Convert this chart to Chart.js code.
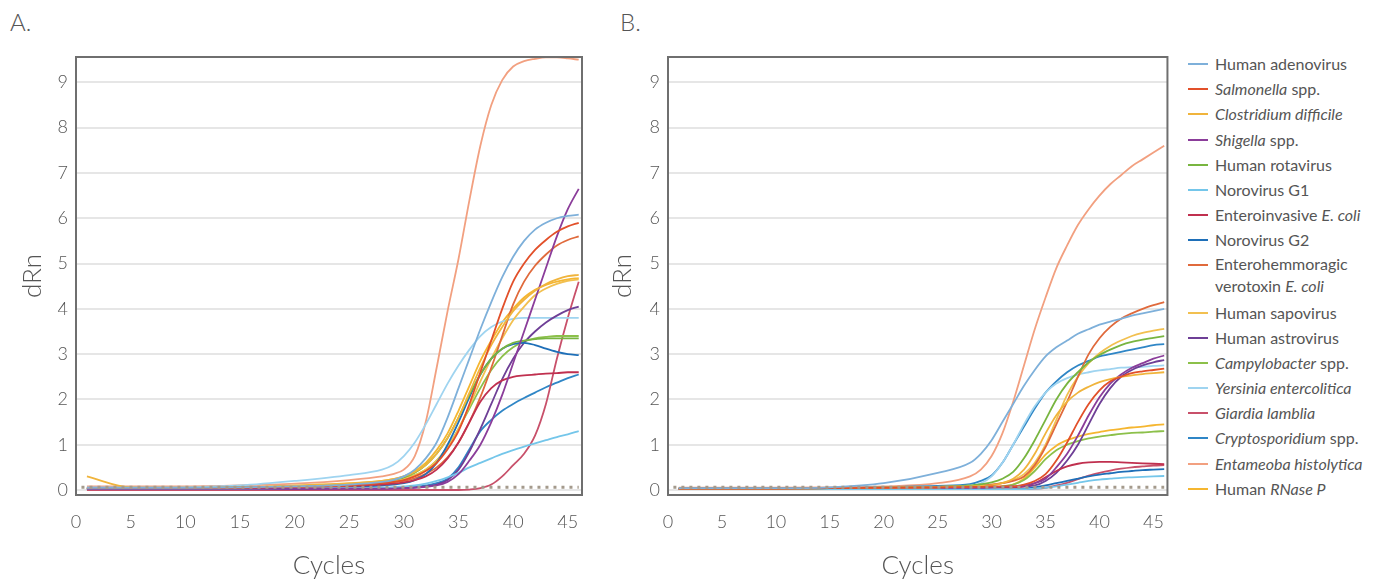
<!DOCTYPE html>
<html><head><meta charset="utf-8">
<script src="https://cdn.jsdelivr.net/npm/chart.js@4/dist/chart.umd.min.js"></script>
<style>
body{margin:0;background:#fff;width:1381px;height:581px;overflow:hidden;position:relative;font-family:Lato,"Open Sans",sans-serif;}
canvas{position:absolute;top:0}
#ca{left:0}
#cb{left:590px}
.lbl{position:absolute;font-size:24px;color:#555;font-weight:300;line-height:1}
#legend{position:absolute;left:1188px;top:51px;font-size:16px;color:#555;font-weight:400}
.item{position:relative;height:25.2px;line-height:25.2px;padding-left:27px;white-space:nowrap}
.item .sw{position:absolute;left:0;top:12px;width:20px;height:2px}
.item.two{height:47px;line-height:22px}
.item.two .sw{top:11px}
</style></head>
<body>
<div class="lbl" style="left:10px;top:10px">A.</div>
<div class="lbl" style="left:620px;top:10px">B.</div>
<canvas id="ca" width="600" height="581"></canvas>
<canvas id="cb" width="590" height="581"></canvas>
<div id="legend"></div>
<script>
// ---- data ----
const cycles = [1,5,10,15,20,25,28,29,30,31,32,33,34,35,36,37,38,39,40,41,42,43,44,45,46];
const xTickLabels = [0,5,10,15,20,25,30,35,40,45];
const yTickLabels = [0,1,2,3,4,5,6,7,8,9];
const thresholdCycles = [0.5,46];
const thresholdValues = [0.06,0.06];

const seriesNames = [
  'Human adenovirus','<i>Salmonella</i> spp.','<i>Clostridium difficile</i>','<i>Shigella</i> spp.',
  'Human rotavirus','Norovirus G1','Enteroinvasive <i>E. coli</i>','Norovirus G2',
  'Enterohemmoragic<br>verotoxin <i>E. coli</i>','Human sapovirus','Human astrovirus','<i>Campylobacter</i> spp.',
  '<i>Yersinia entercolitica</i>','<i>Giardia lamblia</i>','<i>Cryptosporidium</i> spp.','<i>Entameoba histolytica</i>','Human <i>RNase P</i>'
];
const seriesColors = ['#7eb0da','#e2502a','#f0b43c','#8b3d9a','#78b540','#74c6ea','#c0304f','#1e6fb8',
  '#e06a3c','#f2c050','#6e3f96','#8cc04a','#9fd4f0','#c8506a','#2f86c6','#f2a080','#f5b630'];

// Panel A
const aAdeno  = [0.05,0.05,0.05,0.06,0.08,0.12,0.18,0.22,0.3,0.45,0.7,1.05,1.6,2.25,2.9,3.55,4.15,4.7,5.15,5.5,5.75,5.9,6.0,6.05,6.08];
const aSalm   = [0.04,0.04,0.04,0.05,0.07,0.1,0.15,0.18,0.22,0.3,0.42,0.6,0.9,1.3,1.9,2.6,3.3,4.0,4.6,5.0,5.3,5.52,5.7,5.82,5.9];
const aClost  = [0.3,0.06,0.05,0.06,0.1,0.15,0.2,0.24,0.3,0.4,0.55,0.8,1.15,1.6,2.15,2.7,3.2,3.6,3.95,4.2,4.4,4.55,4.65,4.72,4.75];
const aShig   = [0.03,0.03,0.03,0.03,0.03,0.03,0.03,0.03,0.04,0.05,0.07,0.1,0.18,0.35,0.65,1.0,1.5,2.1,2.8,3.5,4.2,4.9,5.6,6.2,6.65];
const aRota   = [0.04,0.04,0.04,0.05,0.08,0.12,0.18,0.22,0.28,0.38,0.55,0.8,1.15,1.6,2.1,2.55,2.9,3.12,3.25,3.3,3.33,3.35,3.35,3.35,3.35];
const aNoroG1 = [0.03,0.03,0.03,0.03,0.04,0.04,0.05,0.06,0.08,0.1,0.14,0.2,0.28,0.38,0.5,0.6,0.7,0.8,0.88,0.96,1.03,1.1,1.17,1.23,1.3];
const aEiec   = [0.03,0.03,0.03,0.04,0.06,0.09,0.12,0.14,0.17,0.22,0.3,0.45,0.7,1.05,1.5,1.95,2.25,2.42,2.5,2.53,2.55,2.57,2.58,2.6,2.6];
const aNoroG2 = [0.03,0.03,0.03,0.04,0.06,0.08,0.1,0.12,0.15,0.22,0.35,0.6,1.0,1.5,2.05,2.55,2.9,3.12,3.22,3.25,3.2,3.12,3.05,3.0,2.98];
const aEhec   = [0.04,0.04,0.04,0.05,0.07,0.1,0.14,0.17,0.2,0.26,0.36,0.5,0.72,1.05,1.5,2.05,2.7,3.4,4.1,4.6,4.95,5.2,5.4,5.52,5.6];
const aSapo   = [0.04,0.04,0.04,0.05,0.08,0.12,0.16,0.2,0.25,0.33,0.45,0.65,0.95,1.35,1.85,2.4,2.9,3.35,3.75,4.05,4.3,4.45,4.55,4.62,4.65];
const aAstro  = [0.02,0.02,0.02,0.02,0.02,0.03,0.03,0.04,0.05,0.06,0.08,0.12,0.22,0.45,0.85,1.35,1.9,2.45,2.9,3.25,3.5,3.7,3.85,3.97,4.05];
const aCampy  = [0.04,0.04,0.04,0.05,0.08,0.12,0.15,0.2,0.25,0.33,0.45,0.65,0.95,1.35,1.8,2.25,2.65,2.95,3.15,3.28,3.35,3.38,3.4,3.4,3.4];
const aYers   = [0.05,0.05,0.06,0.1,0.2,0.33,0.45,0.55,0.75,1.05,1.45,1.9,2.35,2.75,3.1,3.4,3.6,3.72,3.78,3.8,3.8,3.8,3.8,3.8,3.8];
const aGiardia= [0,0,0,0,0,0,0,0,0,0,0,0,0,0,0.01,0.04,0.12,0.3,0.55,0.8,1.2,1.9,2.9,3.8,4.6];
const aCrypto = [0.03,0.03,0.03,0.03,0.04,0.04,0.04,0.05,0.05,0.07,0.1,0.15,0.25,0.5,0.9,1.3,1.55,1.75,1.9,2.03,2.15,2.27,2.37,2.47,2.55];
const aEntam  = [0.08,0.08,0.08,0.1,0.14,0.22,0.3,0.35,0.45,0.75,1.5,2.7,3.95,5.1,6.4,7.6,8.5,9.05,9.35,9.47,9.52,9.55,9.55,9.53,9.5];
const aRnase  = [0.05,0.05,0.05,0.06,0.09,0.14,0.2,0.24,0.3,0.42,0.6,0.88,1.25,1.75,2.3,2.85,3.3,3.7,4.0,4.25,4.42,4.53,4.6,4.65,4.68];

// Panel B
const bAdeno  = [0.04,0.04,0.04,0.06,0.15,0.38,0.6,0.8,1.1,1.5,1.9,2.3,2.65,2.95,3.15,3.3,3.45,3.55,3.65,3.72,3.78,3.85,3.9,3.95,4.0];
const bSalm   = [0.03,0.03,0.03,0.04,0.05,0.06,0.07,0.07,0.08,0.08,0.08,0.12,0.2,0.35,0.65,1.05,1.5,1.9,2.2,2.4,2.5,2.58,2.62,2.65,2.68];
const bClost  = [0.03,0.03,0.03,0.04,0.05,0.06,0.08,0.09,0.1,0.15,0.25,0.45,0.8,1.25,1.65,1.95,2.15,2.28,2.38,2.45,2.5,2.53,2.56,2.58,2.6];
const bShig   = [0.03,0.03,0.03,0.04,0.04,0.05,0.05,0.05,0.06,0.07,0.08,0.1,0.15,0.25,0.5,0.8,1.2,1.65,2.05,2.35,2.55,2.7,2.8,2.9,2.97];
const bRota   = [0.03,0.03,0.03,0.04,0.05,0.07,0.1,0.13,0.17,0.25,0.4,0.7,1.1,1.55,2.0,2.35,2.6,2.82,2.98,3.1,3.2,3.27,3.32,3.36,3.4];
const bNoroG1 = [0.02,0.02,0.02,0.02,0.02,0.02,0.02,0.02,0.02,0.02,0.02,0.02,0.03,0.05,0.08,0.12,0.16,0.2,0.23,0.25,0.27,0.28,0.29,0.3,0.31];
const bEiec   = [0.02,0.02,0.02,0.02,0.03,0.03,0.03,0.03,0.04,0.04,0.05,0.08,0.15,0.28,0.42,0.52,0.58,0.61,0.62,0.62,0.61,0.6,0.59,0.58,0.57];
const bNoroG2 = [0.02,0.02,0.02,0.02,0.02,0.02,0.02,0.02,0.02,0.02,0.02,0.03,0.06,0.1,0.15,0.2,0.25,0.3,0.34,0.37,0.4,0.42,0.44,0.45,0.46];
const bEhec   = [0.03,0.03,0.03,0.04,0.05,0.07,0.09,0.1,0.12,0.15,0.2,0.3,0.55,0.95,1.45,1.95,2.5,3.0,3.35,3.6,3.78,3.9,4.0,4.08,4.15];
const bSapo   = [0.03,0.03,0.03,0.04,0.05,0.07,0.09,0.1,0.12,0.16,0.22,0.35,0.6,1.0,1.55,2.1,2.5,2.8,3.02,3.18,3.3,3.4,3.47,3.52,3.56];
const bAstro  = [0.03,0.03,0.03,0.04,0.04,0.05,0.05,0.05,0.05,0.06,0.07,0.08,0.1,0.2,0.38,0.65,1.0,1.45,1.9,2.25,2.5,2.65,2.75,2.82,2.87];
const bCampy  = [0.03,0.03,0.03,0.03,0.04,0.04,0.04,0.05,0.05,0.08,0.12,0.22,0.42,0.68,0.88,1.0,1.08,1.14,1.18,1.21,1.24,1.26,1.27,1.29,1.3];
const bYers   = [0.03,0.03,0.03,0.04,0.05,0.07,0.1,0.15,0.3,0.6,1.0,1.45,1.85,2.15,2.35,2.47,2.55,2.6,2.64,2.67,2.7,2.71,2.72,2.74,2.75];
const bGiardia= [0.02,0.02,0.02,0.02,0.02,0.02,0.02,0.02,0.02,0.02,0.02,0.02,0.03,0.05,0.1,0.16,0.24,0.32,0.38,0.43,0.47,0.5,0.52,0.54,0.55];
const bCrypto = [0.03,0.03,0.03,0.04,0.06,0.09,0.13,0.2,0.32,0.6,1.0,1.4,1.8,2.15,2.4,2.6,2.75,2.85,2.95,3.0,3.05,3.1,3.15,3.2,3.22];
const bEntam  = [0.05,0.05,0.05,0.06,0.08,0.15,0.3,0.45,0.75,1.25,1.95,2.75,3.55,4.25,4.9,5.4,5.85,6.2,6.5,6.75,6.95,7.15,7.3,7.45,7.6];
const bRnase  = [0.03,0.03,0.03,0.03,0.04,0.04,0.04,0.05,0.05,0.08,0.12,0.25,0.5,0.78,0.98,1.1,1.18,1.24,1.28,1.32,1.35,1.38,1.4,1.43,1.45];

const panelA = [aAdeno,aSalm,aClost,aShig,aRota,aNoroG1,aEiec,aNoroG2,aEhec,aSapo,aAstro,aCampy,aYers,aGiardia,aCrypto,aEntam,aRnase];
const panelB = [bAdeno,bSalm,bClost,bShig,bRota,bNoroG1,bEiec,bNoroG2,bEhec,bSapo,bAstro,bCampy,bYers,bGiardia,bCrypto,bEntam,bRnase];

// ---- legend ----
const lg = document.getElementById('legend');
seriesNames.forEach((n,i)=>{
  const d = document.createElement('div');
  d.className = 'item' + (n.indexOf('<br>')>=0 ? ' two' : '');
  d.innerHTML = '<span class="sw" style="background:'+seriesColors[i]+'"></span>'+n;
  lg.appendChild(d);
});

// ---- charts ----
const frame = {
  id:'frame',
  afterDraw(c){
    const a=c.chartArea, ctx=c.ctx;
    ctx.save(); ctx.strokeStyle='#6f6f6f'; ctx.lineWidth=2;
    ctx.strokeRect(a.left,a.top,a.right-a.left,a.bottom-a.top); ctx.restore();
  }
};
const FONT = 'Lato, "Open Sans", sans-serif';
function makeChart(id, series, yWidth, rightPad){
  const ds = series.map((arr,i)=>({
    data: arr.map((v,j)=>({x:cycles[j], y:v})),
    borderColor: seriesColors[i], borderWidth: 1.8, pointRadius:0,
    cubicInterpolationMode:'monotone', fill:false
  }));
  ds.unshift({
    data: thresholdValues.map((v,j)=>({x:thresholdCycles[j], y:v})),
    borderColor:'#a49a8c', borderWidth:3, borderDash:[3,5], pointRadius:0, fill:false
  });
  return new Chart(document.getElementById(id), {
    type:'line',
    data:{datasets:ds},
    options:{
      responsive:false, animation:false, devicePixelRatio:1,
      layout:{padding:{left:0,top:57,right:rightPad,bottom:0}},
      plugins:{legend:{display:false},tooltip:{enabled:false}},
      scales:{
        x:{type:'linear',min:0,max:46.3,
          afterBuildTicks:s=>{s.ticks=xTickLabels.map(v=>({value:v}));},
          afterFit:s=>{s.height=86;},
          grid:{display:false,drawTicks:false}, border:{display:false},
          ticks:{padding:16,color:'#555',font:{size:18,family:FONT,weight:'300'}},
          title:{display:true,text:'Cycles',color:'#555',padding:0,font:{size:26,family:FONT,weight:'300'}}
        },
        y:{type:'linear',min:-0.11,max:9.56,
          afterBuildTicks:s=>{s.ticks=yTickLabels.map(v=>({value:v}));},
          afterFit:s=>{s.width=yWidth;},
          grid:{color:'#e6e6e6',lineWidth:2,drawTicks:false}, border:{display:false},
          ticks:{padding:8,color:'#555',font:{size:18,family:FONT,weight:'300'}},
          title:{display:true,text:'dRn',color:'#555',padding:{top:17,bottom:0},font:{size:26,family:FONT,weight:'300'}}
        }
      }
    },
    plugins:[frame]
  });
}
makeChart('ca', panelA, 76, 18);
makeChart('cb', panelB, 78, 5);
</script>
</body></html>
